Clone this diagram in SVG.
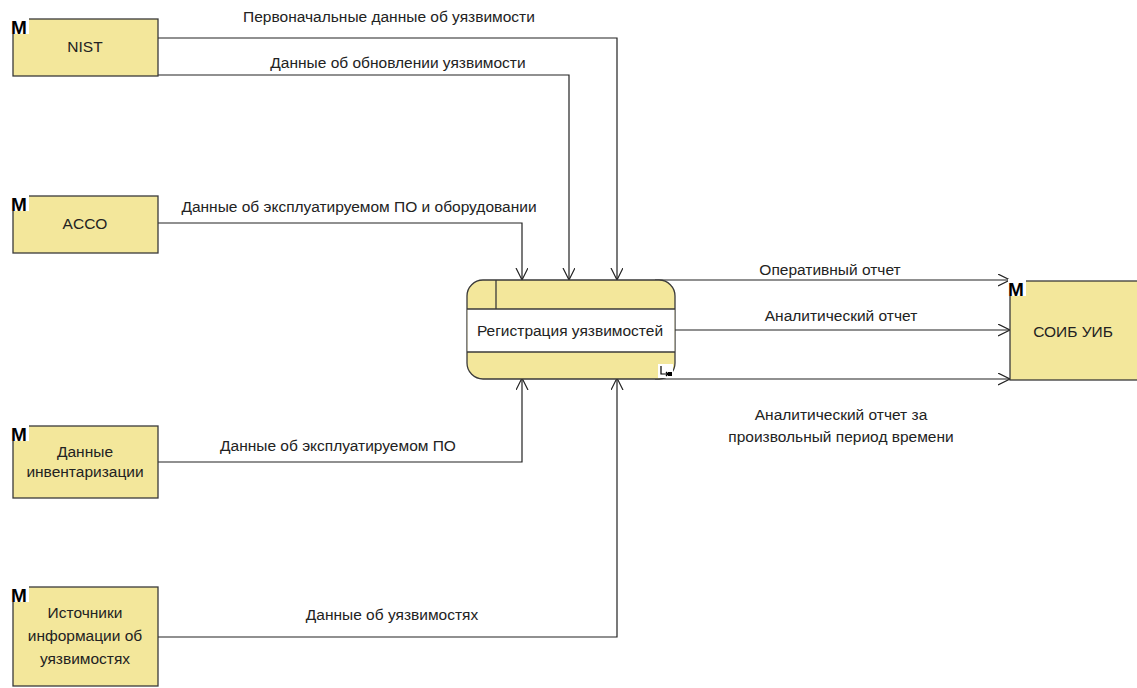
<svg xmlns="http://www.w3.org/2000/svg" width="1137" height="688" viewBox="0 0 1137 688">
<style>
.box{fill:#F3E79B;stroke:#3a3a3a;stroke-width:1.3}
.t{font-family:"Liberation Sans",Arial,sans-serif;font-size:15.5px;fill:#222;text-anchor:middle}
.m{font-family:"Liberation Sans",Arial,sans-serif;font-size:19px;font-weight:bold;fill:#000}
.c{fill:none;stroke:#222;stroke-width:1.2}
</style>
<defs>
<marker id="a" markerWidth="14" markerHeight="14" refX="12" refY="6" orient="auto" markerUnits="userSpaceOnUse">
<path d="M0,0 L12,6 L0,12" fill="none" stroke="#222" stroke-width="1.2"/>
</marker>
</defs>
<rect width="1137" height="688" fill="#fff"/>
<g id="connectors">
<path class="c" d="M158,38 H617 V280" marker-end="url(#a)"/>
<path class="c" d="M158,75 H569 V280" marker-end="url(#a)"/>
<path class="c" d="M158,223 H522 V280" marker-end="url(#a)"/>
<path class="c" d="M158,462 H522 V378" marker-end="url(#a)"/>
<path class="c" d="M158,637 H617 V378" marker-end="url(#a)"/>
<path class="c" d="M655,280 H1010" marker-end="url(#a)"/>
<path class="c" d="M675,330 H1010" marker-end="url(#a)"/>
<path class="c" d="M655,379 H1010" marker-end="url(#a)"/>
<text class="t" x="389" y="22">Первоначальные данные об уязвимости</text>
<text class="t" x="398" y="68">Данные об обновлении уязвимости</text>
<text class="t" x="359" y="212">Данные об эксплуатируемом ПО и оборудовании</text>
<text class="t" x="338" y="451">Данные об эксплуатируемом ПО</text>
<text class="t" x="392" y="620">Данные об уязвимостях</text>
<text class="t" x="830" y="275">Оперативный отчет</text>
<text class="t" x="841" y="321">Аналитический отчет</text>
<text class="t" x="841" y="420">Аналитический отчет за</text>
<text class="t" x="841" y="442">произвольный период времени</text>
</g>
<g id="nist">
<rect class="box" x="13" y="19" width="145" height="57"/>
<rect x="11" y="17" width="18" height="17" fill="#fff"/>
<text class="m" x="11" y="34">M</text>
<text class="t" x="85" y="52">NIST</text>
</g>
<g id="acco">
<rect class="box" x="13" y="196" width="145" height="57"/>
<rect x="11" y="194" width="18" height="17" fill="#fff"/>
<text class="m" x="11" y="211">M</text>
<text class="t" x="85" y="229">ACCO</text>
</g>
<g id="inventory">
<rect class="box" x="13" y="426" width="145" height="72"/>
<rect x="11" y="424" width="18" height="17" fill="#fff"/>
<text class="m" x="11" y="441">M</text>
<text class="t" x="85" y="457">Данные</text>
<text class="t" x="85" y="477">инвентаризации</text>
</g>
<g id="sources">
<rect class="box" x="13" y="587" width="145" height="99"/>
<rect x="11" y="585" width="18" height="17" fill="#fff"/>
<text class="m" x="11" y="602">M</text>
<text class="t" x="85" y="618">Источники</text>
<text class="t" x="85" y="641">информации об</text>
<text class="t" x="85" y="664">уязвимостях</text>
</g>
<g id="process">
<rect class="box" x="467" y="280" width="208" height="99" rx="16"/>
<rect x="467.6" y="309" width="206.8" height="43" fill="#fff"/>
<line x1="467" y1="309" x2="675" y2="309" stroke="#3a3a3a" stroke-width="1.3"/>
<line x1="467" y1="352" x2="675" y2="352" stroke="#3a3a3a" stroke-width="1.3"/>
<line x1="496" y1="280" x2="496" y2="309" stroke="#3a3a3a" stroke-width="1.3"/>
<rect x="658" y="364" width="15" height="14" fill="#fff"/>
<path d="M661,366 V374 H668 M666,372 L668,374 L666,376" fill="none" stroke="#000" stroke-width="1.2"/>
<rect x="668" y="372" width="4" height="4" fill="#000"/>
<text class="t" x="570" y="336">Регистрация уязвимостей</text>
</g>
<g id="soib">
<rect class="box" x="1010" y="281" width="135" height="99"/>
<rect x="1008" y="279" width="18" height="17" fill="#fff"/>
<text class="m" x="1008" y="296">M</text>
<text class="t" x="1073" y="337">СОИБ УИБ</text>
</g>
</svg>
